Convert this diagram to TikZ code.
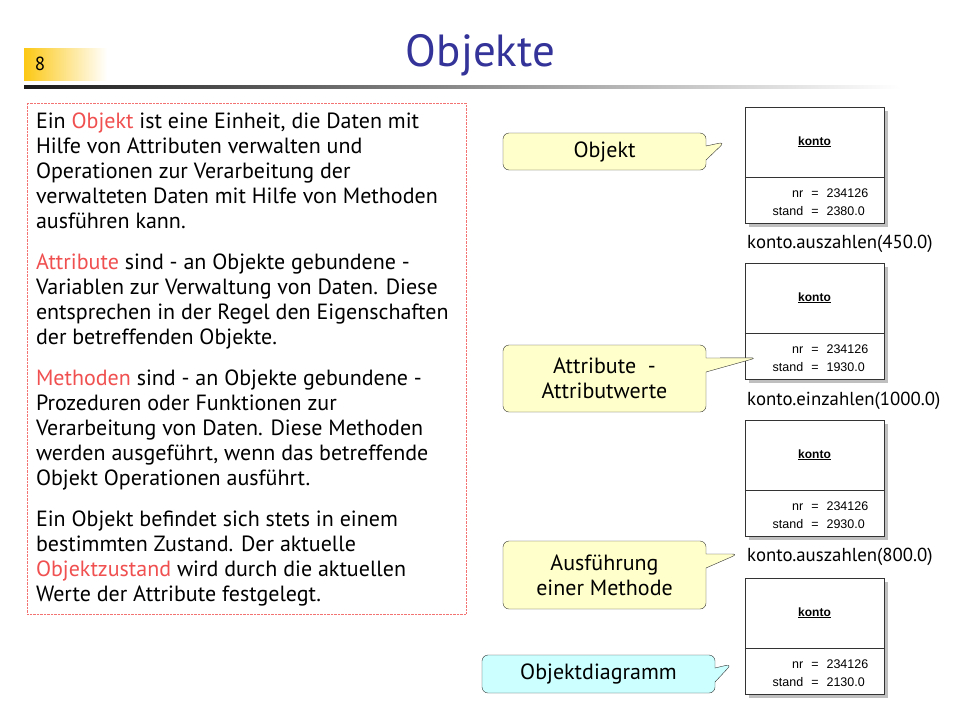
\documentclass[tikz,border=0pt]{standalone}
\usepackage{fontspec}
\setmainfont{PT Sans}
\newfontfamily\umlfont{Liberation Sans}
\usetikzlibrary{calc,shapes.callouts,shadows}

\definecolor{titleblue}{RGB}{51,51,153}
\definecolor{keyred}{RGB}{240,80,80}
\definecolor{numgold}{RGB}{252,200,20}
\definecolor{noteyellow}{RGB}{255,255,204}
\definecolor{notecyan}{RGB}{204,255,255}

\newcommand{\keyword}[1]{\textcolor{keyred}{#1}}

\begin{document}
\begin{tikzpicture}[x=1pt,y=-1pt]
    % Node styles
    \tikzset{
      note box/.style={rectangle callout, rounded corners=6pt, draw=black!80, thin,
        align=center, inner sep=0pt, callout pointer width=14pt,
        font=\fontsize{22}{25}\selectfont},
      object box/.style={draw=black!80, thin, fill=white, inner sep=0pt,
        minimum width=139pt, minimum height=116pt,
        drop shadow={shadow xshift=4pt, shadow yshift=-4pt, fill=black!25, opacity=1}},
      object name/.style={inner sep=0pt, font=\umlfont\bfseries\fontsize{12}{14}\selectfont},
      object attr/.style={inner sep=0pt, font=\umlfont\fontsize{12.5}{18}\selectfont},
      call label/.style={anchor=west, inner sep=0pt, font=\fontsize{18.8}{22}\selectfont}
    }

    \path[use as bounding box, fill=white] (0,0) rectangle (960,720);

    % --- Header: page number, title, rule ---
    \node[left color=numgold, right color=white, minimum width=83pt,
      minimum height=32pt, inner sep=0pt] (numbar) at (65.5,64) {};
    \node[inner sep=0pt, font=\fontsize{19}{20}\selectfont] (pagenum) at (40,64) {8};
    \node[anchor=base, inner sep=0pt, text=titleblue,
      font=\fontsize{45}{50}\selectfont] (title) at (480.5,66) {Objekte};
    \shade[left color=black!90, right color=white] (24,85) rectangle (900,88);

    % --- Left: description text ---
    \node[draw=keyred!80, densely dotted, minimum width=439pt, minimum height=511pt,
      inner sep=0pt] (frame) at (246.5,358.5) {};
    \node[anchor=north west, inner sep=0pt, align=left,
      font=\fontsize{22}{25}\selectfont] (desc) at ($(frame.north west)+(9,10)$) {%
      Ein \keyword{Objekt} ist eine Einheit, die Daten mit\\
      Hilfe von Attributen verwalten und\\
      Operationen zur Verarbeitung der\\
      verwalteten Daten mit Hilfe von Methoden\\
      ausführen kann.\\[16pt]
      \keyword{Attribute} sind - an Objekte gebundene -\\
      Variablen zur Verwaltung von Daten. Diese\\
      entsprechen in der Regel den Eigenschaften\\
      der betreffenden Objekte.\\[16pt]
      \keyword{Methoden} sind - an Objekte gebundene -\\
      Prozeduren oder Funktionen zur\\
      Verarbeitung von Daten. Diese Methoden\\
      werden ausgeführt, wenn das betreffende\\
      Objekt Operationen ausführt.\\[16pt]
      Ein Objekt befindet sich stets in einem\\
      bestimmten Zustand. Der aktuelle\\
      \keyword{Objektzustand} wird durch die aktuellen\\
      Werte der Attribute festgelegt.};

    % --- Right: object diagram, four states of konto ---
    \node[object box] (k1) at (814.5,165) {};
    \draw[black!80] ($(k1.north west)+(0,70)$) -- ($(k1.north east)+(0,70)$);
    \node[object name] (k1name) at ($(k1.north)+(0,35)$) {\underline{konto}};
    \node[object attr] (k1attr) at ($(k1.north)+(6,96)$)
      {\begin{tabular}{@{}r@{\hspace{8pt}=\hspace{8pt}}l@{}}nr & 234126\\ stand & 2380.0\end{tabular}};

    \node[call label] (call1) at (747,244) {konto.auszahlen(450.0)};

    \node[object box] (k2) at (814.5,321) {};
    \draw[black!80] ($(k2.north west)+(0,70)$) -- ($(k2.north east)+(0,70)$);
    \node[object name] (k2name) at ($(k2.north)+(0,35)$) {\underline{konto}};
    \node[object attr] (k2attr) at ($(k2.north)+(6,96)$)
      {\begin{tabular}{@{}r@{\hspace{8pt}=\hspace{8pt}}l@{}}nr & 234126\\ stand & 1930.0\end{tabular}};

    \node[call label] (call2) at (747,401) {konto.einzahlen(1000.0)};

    \node[object box] (k3) at (814.5,478) {};
    \draw[black!80] ($(k3.north west)+(0,70)$) -- ($(k3.north east)+(0,70)$);
    \node[object name] (k3name) at ($(k3.north)+(0,35)$) {\underline{konto}};
    \node[object attr] (k3attr) at ($(k3.north)+(6,96)$)
      {\begin{tabular}{@{}r@{\hspace{8pt}=\hspace{8pt}}l@{}}nr & 234126\\ stand & 2930.0\end{tabular}};

    \node[call label] (call3) at (747,557) {konto.auszahlen(800.0)};

    \node[object box] (k4) at (814.5,636) {};
    \draw[black!80] ($(k4.north west)+(0,70)$) -- ($(k4.north east)+(0,70)$);
    \node[object name] (k4name) at ($(k4.north)+(0,35)$) {\underline{konto}};
    \node[object attr] (k4attr) at ($(k4.north)+(6,96)$)
      {\begin{tabular}{@{}r@{\hspace{8pt}=\hspace{8pt}}l@{}}nr & 234126\\ stand & 2130.0\end{tabular}};

    % --- Callouts pointing at the diagram ---
    \node[note box, fill=noteyellow, minimum width=203pt, minimum height=37pt,
      callout absolute pointer={($(k1.west)+(-20,-23)$)}] (objnote) at (604.5,151.5) {Objekt};
    \node[note box, fill=noteyellow, minimum width=203pt, minimum height=67pt,
      callout absolute pointer={($(k2.north west)+(12,95)$)}] (attrnote) at (604.5,378.5)
      {Attribute\ \ -\\Attributwerte};
    \node[note box, fill=noteyellow, minimum width=203pt, minimum height=68pt,
      callout absolute pointer={($(call3.west)+(-9,-3)$)}] (methnote) at (604.5,575)
      {Ausführung\\einer Methode};
    \node[note box, fill=notecyan, minimum width=233pt, minimum height=38pt,
      callout absolute pointer={($(k4.west)+(-13,28)$)}] (diagnote) at (598.5,674) {Objektdiagramm};

  \end{tikzpicture}
\end{document}
